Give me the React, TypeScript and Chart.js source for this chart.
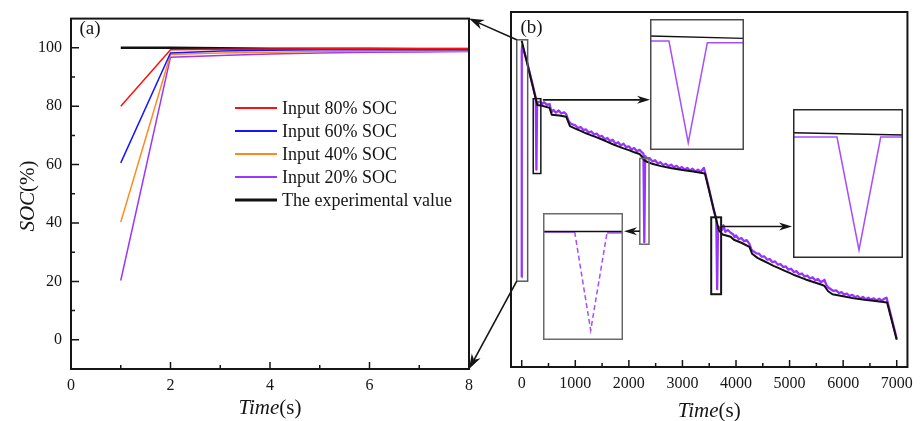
import React, { useEffect, useRef } from 'react';
import { Chart, registerables } from 'chart.js';

Chart.register(...registerables);

const SERIF = '"Liberation Serif", "Times New Roman", Times, serif';
const INK = '#151515';

// ---------- panel (a) ----------
const timeA = [1, 2, 3, 4, 5, 6, 7, 8];
const input80 = [80.0, 99.3, 99.5, 99.6, 99.7, 99.7, 99.7, 99.7];
const input60 = [60.6, 98.2, 98.9, 99.2, 99.3, 99.3, 99.3, 99.3];
const input40 = [40.3, 97.7, 98.2, 98.5, 98.7, 98.8, 98.9, 98.9];
const input20 = [20.3, 96.8, 97.4, 97.9, 98.2, 98.5, 98.6, 98.7];
const experimentalA = [100.0, 100.0, 99.8, 99.7, 99.7, 99.7, 99.6, 99.6];
const labelsA = ['Input 80% SOC', 'Input 60% SOC', 'Input 40% SOC', 'Input 20% SOC', 'The experimental value'];
const colorsA = ['#ff1010', '#1515ff', '#ff8a1c', '#9b35ff', '#111111'];
const xTicksA = [0, 2, 4, 6, 8];
const xMinorA = [1, 3, 5, 7];
const yTicksA = [0, 20, 40, 60, 80, 100];
const yMinorA = [10, 30, 50, 70, 90];

// ---------- panel (b) ----------
const blackTime = [0, 290, 380, 520, 560, 700, 830, 900, 1000, 1100, 1200, 1300, 1400, 1500, 1600, 1700, 1800, 1900, 2000, 2100, 2200, 2250, 2290, 2350, 2450, 2600, 2800, 3000, 3200, 3420, 3680, 3750, 3900, 3960, 4100, 4250, 4300, 4400, 4500, 4600, 4700, 4800, 4900, 5000, 5100, 5200, 5300, 5400, 5500, 5600, 5650, 5720, 5800, 6000, 6200, 6400, 6600, 6820, 7000];
const blackSOC = [100.3, 78.6, 78.3, 77.6, 75.3, 75.0, 74.6, 71.4, 70.6, 69.8, 69.0, 68.3, 67.6, 66.9, 66.1, 65.3, 64.6, 63.9, 63.3, 62.6, 62.0, 61.0, 59.8, 59.3, 58.6, 57.9, 57.2, 56.6, 56.1, 55.4, 36.2, 34.8, 34.0, 33.0, 32.0, 30.6, 28.3, 26.9, 26.0, 25.1, 24.2, 23.4, 22.6, 21.8, 21.0, 20.3, 19.6, 19.0, 18.4, 17.8, 17.4, 15.6, 14.6, 13.9, 13.2, 12.7, 12.3, 11.8, -0.8];

const purpleTime = [0, 1, 8, 100, 200, 262, 274, 287, 310, 340, 380, 420, 470, 520, 555, 590, 640, 690, 740, 790, 830, 870, 905, 950, 1000, 1050, 1100, 1150, 1200, 1250, 1300, 1350, 1400, 1450, 1500, 1550, 1600, 1650, 1700, 1750, 1800, 1850, 1900, 1950, 2000, 2050, 2100, 2150, 2200, 2240, 2272, 2288, 2304, 2340, 2390, 2440, 2490, 2540, 2590, 2640, 2690, 2740, 2790, 2840, 2890, 2940, 2990, 3040, 3090, 3140, 3190, 3240, 3290, 3340, 3400, 3425, 3500, 3580, 3632, 3648, 3664, 3700, 3740, 3765, 3800, 3850, 3900, 3950, 3975, 4000, 4050, 4100, 4150, 4200, 4250, 4290, 4330, 4380, 4430, 4480, 4530, 4580, 4630, 4680, 4730, 4780, 4830, 4880, 4930, 4980, 5030, 5080, 5130, 5180, 5230, 5280, 5330, 5380, 5430, 5480, 5530, 5580, 5630, 5650, 5690, 5730, 5770, 5820, 5870, 5920, 5970, 6020, 6070, 6120, 6170, 6220, 6270, 6320, 6370, 6420, 6470, 6520, 6570, 6620, 6670, 6720, 6770, 6810, 6830, 7000];
const purpleSOC = [20.3, 96.8, 98.7, 93.1, 85.7, 81.0, 56.7, 79.7, 79.4, 79.8, 78.9, 79.5, 78.6, 78.9, 76.1, 76.9, 76.0, 76.7, 75.7, 76.1, 75.5, 73.4, 72.4, 72.0, 71.7, 70.8, 71.1, 70.1, 70.3, 69.3, 69.6, 68.6, 68.9, 67.9, 68.1, 67.0, 67.4, 66.3, 66.8, 65.5, 66.0, 64.9, 65.5, 64.3, 64.6, 63.5, 64.0, 62.9, 63.4, 62.6, 62.1, 32.2, 61.3, 60.5, 60.6, 59.5, 59.9, 58.8, 59.2, 58.3, 58.7, 57.9, 58.4, 57.5, 58.0, 57.1, 57.6, 56.7, 57.3, 56.4, 57.0, 56.1, 56.7, 55.9, 57.3, 55.6, 49.9, 43.3, 39.9, 16.3, 37.6, 37.0, 36.4, 37.9, 35.7, 36.3, 35.4, 34.8, 33.9, 34.5, 33.2, 33.6, 32.5, 32.9, 31.6, 29.6, 29.1, 28.4, 28.3, 27.3, 27.4, 26.3, 26.5, 25.4, 25.7, 24.6, 24.8, 23.8, 24.0, 22.9, 23.2, 22.1, 22.4, 21.3, 21.6, 20.6, 20.9, 19.9, 20.3, 19.3, 19.7, 18.7, 19.1, 19.5, 17.6, 16.8, 16.3, 15.7, 15.9, 15.0, 15.3, 14.5, 14.8, 14.0, 14.4, 13.6, 14.0, 13.2, 13.7, 12.9, 13.4, 12.7, 13.2, 12.5, 13.1, 12.4, 13.1, 13.4, 12.0, -0.5];
const xTicksB = [0, 1000, 2000, 3000, 4000, 5000, 6000, 7000];
const xMinorB = [500, 1500, 2500, 3500, 4500, 5500, 6500];

// zoom boxes in panel (b), data units
const boxT0 = [-93, 215, 2204, 3537];
const boxT1 = [111, 357, 2376, 3722];
const boxS0 = [19.0, 55.4, 31.5, 14.6];
const boxS1 = [100.6, 80.7, 60.5, 40.6];
const linkSOC = [0, 80.3, 35.9, 37.5];

// insets (own data, own ranges)
const in1Range = [250, 310, 55.4, 80.7];
const in1BlackT = [250, 310];
const in1BlackS = [77.42, 76.97];
const in1PurpleT = [250, 262.1, 274.4, 286.6, 310];
const in1PurpleS = [76.45, 76.45, 56.8, 76.12, 76.12];

const in2Range = [3600, 3680, 14.6, 40.6];
const in2BlackT = [3600, 3680];
const in2BlackS = [36.46, 36.06];
const in2PurpleT = [3600, 3632, 3648, 3663.8, 3680];
const in2PurpleS = [35.71, 35.71, 16.0, 35.71, 35.71];

const in3Range = [2240, 2320, 31.5, 60.5];
const in3BlackT = [2240, 2320];
const in3BlackS = [56.27, 56.27];
const in3PurpleT = [2240, 2271.7, 2287.7, 2304, 2320];
const in3PurpleS = [56.15, 56.15, 33.72, 55.95, 55.95];

// layout
const INSETS = [
  { left: 650, top: 19, w: 94, h: 131, border: '#4a4a4a' },
  { left: 793, top: 109, w: 110, h: 149, border: '#2a2a2a' },
  { left: 543, top: 213, w: 80, h: 127, border: '#6a6a6a' },
];

const pts = (xs: number[], ys: number[]) => xs.map((x, i) => ({ x, y: ys[i] }));

function drawMixed(ctx: CanvasRenderingContext2D, parts: { t: string; i: boolean }[], cx: number, y: number, size: number) {
  const fonts = parts.map(p => `${p.i ? 'italic ' : ''}${size}px ${SERIF}`);
  let total = 0;
  const ws = parts.map((p, k) => { ctx.font = fonts[k]; const w = ctx.measureText(p.t).width; total += w; return w; });
  let x = cx - total / 2;
  ctx.textAlign = 'left';
  ctx.textBaseline = 'alphabetic';
  parts.forEach((p, k) => { ctx.font = fonts[k]; ctx.fillText(p.t, x, y); x += ws[k]; });
}

function frameAndTicks(chart: any, xMaj: number[], xMin: number[], yMaj: number[], yMin: number[]) {
  const { ctx, chartArea: a, scales } = chart;
  ctx.save();
  ctx.strokeStyle = INK;
  ctx.lineWidth = 1.5;
  ctx.beginPath();
  xMaj.forEach(v => { const p = scales.x.getPixelForValue(v); ctx.moveTo(p, a.bottom); ctx.lineTo(p, a.bottom - 7); });
  xMin.forEach(v => { const p = scales.x.getPixelForValue(v); ctx.moveTo(p, a.bottom); ctx.lineTo(p, a.bottom - 4); });
  yMaj.forEach(v => { const p = scales.y.getPixelForValue(v); ctx.moveTo(a.left, p); ctx.lineTo(a.left + 8, p); });
  yMin.forEach(v => { const p = scales.y.getPixelForValue(v); ctx.moveTo(a.left, p); ctx.lineTo(a.left + 4, p); });
  ctx.stroke();
  ctx.lineWidth = 2;
  ctx.strokeRect(a.left, a.top, a.right - a.left, a.bottom - a.top);
  ctx.restore();
}

function arrow(ctx: CanvasRenderingContext2D, x0: number, y0: number, x1: number, y1: number, L = 13, W = 4) {
  const ang = Math.atan2(y1 - y0, x1 - x0);
  const c = Math.cos(ang), s = Math.sin(ang);
  ctx.beginPath();
  ctx.moveTo(x0, y0);
  ctx.lineTo(x1 - L * 0.7 * c, y1 - L * 0.7 * s);
  ctx.stroke();
  ctx.beginPath();
  ctx.moveTo(x1, y1);
  ctx.lineTo(x1 - L * c + W * s, y1 - L * s - W * c);
  ctx.lineTo(x1 - L * 0.7 * c, y1 - L * 0.7 * s);
  ctx.lineTo(x1 - L * c - W * s, y1 - L * s + W * c);
  ctx.closePath();
  ctx.fill();
}

const tickFont = { family: SERIF, size: 16 };

export default function App() {
  const refA = useRef<HTMLCanvasElement>(null);
  const refB = useRef<HTMLCanvasElement>(null);
  const refI1 = useRef<HTMLCanvasElement>(null);
  const refI2 = useRef<HTMLCanvasElement>(null);
  const refI3 = useRef<HTMLCanvasElement>(null);

  useEffect(() => {
    document.body.style.margin = '0';
    const charts: Chart[] = [];

    const seriesA = [input80, input60, input40, input20, experimentalA];
    const chartA = new Chart(refA.current!, {
      type: 'line',
      data: {
        datasets: seriesA.map((s, i) => ({
          label: labelsA[i],
          data: pts(timeA, s),
          borderColor: colorsA[i],
          borderWidth: i === 4 ? 2.6 : 1.5,
          pointRadius: 0,
          tension: 0,
        })),
      },
      options: {
        animation: false,
        responsive: false,
        devicePixelRatio: 1,
        layout: { padding: { top: 14, right: 9, left: 0, bottom: 0 } },
        plugins: { legend: { display: false }, tooltip: { enabled: false } },
        scales: {
          x: {
            type: 'linear', min: 0, max: 8,
            grid: { display: false, drawTicks: false }, border: { display: false },
            afterBuildTicks: (s: any) => { s.ticks = xTicksA.map(v => ({ value: v })); },
            afterFit: (s: any) => { s.height = 52; },
            ticks: { font: tickFont, color: INK, padding: 7, maxRotation: 0, autoSkip: false, callback: (v: any) => String(v) },
          },
          y: {
            type: 'linear', min: -10, max: 110,
            grid: { display: false, drawTicks: false }, border: { display: false },
            afterBuildTicks: (s: any) => { s.ticks = yTicksA.map(v => ({ value: v })); },
            afterFit: (s: any) => { s.width = 71; },
            ticks: { font: tickFont, color: INK, padding: 9, autoSkip: false, callback: (v: any) => String(v) },
          },
        },
      },
      plugins: [{
        id: 'decorA',
        afterDraw(chart: any) {
          frameAndTicks(chart, xTicksA, xMinorA, yTicksA, yMinorA);
          const ctx = chart.ctx as CanvasRenderingContext2D;
          ctx.save();
          ctx.fillStyle = INK;
          // legend
          chart.data.datasets.forEach((d: any, i: number) => {
            const y = 108 + i * 23;
            ctx.strokeStyle = d.borderColor;
            ctx.lineWidth = i === 4 ? 3 : 2;
            ctx.beginPath(); ctx.moveTo(235, y); ctx.lineTo(277, y); ctx.stroke();
            ctx.font = `18px ${SERIF}`;
            ctx.textAlign = 'left'; ctx.textBaseline = 'middle';
            ctx.fillText(d.label, 282, y + 1);
          });
          // panel label
          ctx.font = `19px ${SERIF}`;
          ctx.textBaseline = 'alphabetic';
          ctx.fillText('(a)', 79.5, 34);
          // axis titles
          const a = chart.chartArea;
          drawMixed(ctx, [{ t: 'Time', i: true }, { t: '(s)', i: false }], (a.left + a.right) / 2, 414, 21);
          ctx.save();
          ctx.translate(33.5, 196);
          ctx.rotate(-Math.PI / 2);
          drawMixed(ctx, [{ t: 'SOC', i: true }, { t: '(%)', i: false }], 0, 0, 21);
          ctx.restore();
          ctx.restore();
        },
      }],
    } as any);
    charts.push(chartA);

    const chartB = new Chart(refB.current!, {
      type: 'line',
      data: {
        datasets: [
          { label: 'The experimental value', data: pts(blackTime, blackSOC), borderColor: '#111111', borderWidth: 2, pointRadius: 0, tension: 0, borderJoinStyle: 'round' },
          { label: 'Input 20% SOC', data: pts(purpleTime, purpleSOC), borderColor: '#9933ff', borderWidth: 2.3, pointRadius: 0, tension: 0, borderJoinStyle: 'round' },
        ],
      },
      options: {
        animation: false,
        responsive: false,
        devicePixelRatio: 1,
        layout: { padding: { top: 12, right: 10, left: 511, bottom: 0 } },
        plugins: { legend: { display: false }, tooltip: { enabled: false } },
        scales: {
          x: {
            type: 'linear', min: -200, max: 7200,
            grid: { display: false, drawTicks: false }, border: { display: false },
            afterBuildTicks: (s: any) => { s.ticks = xTicksB.map(v => ({ value: v })); },
            afterFit: (s: any) => { s.height = 54; },
            ticks: { font: tickFont, color: INK, padding: 7, maxRotation: 0, autoSkip: false, callback: (v: any) => String(v) },
          },
          y: { type: 'linear', min: -10, max: 110, display: false },
        },
      },
      plugins: [{
        id: 'decorB',
        afterDraw(chart: any) {
          const ctx = chart.ctx as CanvasRenderingContext2D;
          const sx = chart.scales.x, sy = chart.scales.y;
          frameAndTicks(chart, xTicksB, xMinorB, [], []);
          ctx.save();
          const boxColors = ['#5a5a5a', '#151515', '#6a6a6a', '#151515'];
          const px: number[][] = [];
          boxT0.forEach((t0, i) => {
            const l = sx.getPixelForValue(t0), r = sx.getPixelForValue(boxT1[i]);
            const t = sy.getPixelForValue(boxS1[i]), b = sy.getPixelForValue(boxS0[i]);
            px.push([l, r, t, b]);
            ctx.strokeStyle = boxColors[i];
            ctx.lineWidth = i === 3 ? 2 : 1.5;
            ctx.strokeRect(l, t, r - l, b - t);
          });
          ctx.strokeStyle = INK; ctx.fillStyle = INK; ctx.lineWidth = 1.6;
          const aa = chartA.chartArea;
          arrow(ctx, px[0][0], px[0][2], aa.right, aa.top, 15, 5);
          arrow(ctx, px[0][0], px[0][3], aa.right, aa.bottom, 15, 5);
          const y2 = sy.getPixelForValue(linkSOC[1]);
          arrow(ctx, px[1][1] + 2, y2, INSETS[0].left, y2);
          const y3 = sy.getPixelForValue(linkSOC[2]);
          arrow(ctx, px[2][0], y3, INSETS[2].left + INSETS[2].w + 1, y3);
          const y4 = sy.getPixelForValue(linkSOC[3]);
          arrow(ctx, px[3][1], y4, INSETS[1].left - 1, y4);
          // labels
          ctx.font = `19px ${SERIF}`;
          ctx.textAlign = 'left'; ctx.textBaseline = 'alphabetic';
          ctx.fillText('(b)', 520.5, 33);
          const a = chart.chartArea;
          drawMixed(ctx, [{ t: 'Time', i: true }, { t: '(s)', i: false }], (a.left + a.right) / 2, 417, 21);
          ctx.restore();
        },
      }],
    } as any);
    charts.push(chartB);

    const insetData = [
      { ref: refI1, range: in1Range, bt: in1BlackT, bs: in1BlackS, pt: in1PurpleT, ps: in1PurpleS, dashed: false },
      { ref: refI2, range: in2Range, bt: in2BlackT, bs: in2BlackS, pt: in2PurpleT, ps: in2PurpleS, dashed: false },
      { ref: refI3, range: in3Range, bt: in3BlackT, bs: in3BlackS, pt: in3PurpleT, ps: in3PurpleS, dashed: true },
    ];
    insetData.forEach((d, k) => {
      const c = new Chart(d.ref.current!, {
        type: 'line',
        data: {
          datasets: [
            { data: pts(d.bt, d.bs), borderColor: '#111111', borderWidth: 1.3, pointRadius: 0, tension: 0 },
            {
              data: pts(d.pt, d.ps), borderColor: '#a64dff', borderWidth: 1.5, pointRadius: 0, tension: 0,
              segment: d.dashed ? { borderDash: (ctx: any) => (ctx.p0DataIndex === 1 || ctx.p0DataIndex === 2 ? [5, 3] : undefined) } : undefined,
            },
          ],
        },
        options: {
          animation: false,
          responsive: false,
          devicePixelRatio: 1,
          layout: { padding: 0 },
          plugins: { legend: { display: false }, tooltip: { enabled: false } },
          scales: {
            x: { type: 'linear', min: d.range[0], max: d.range[1], display: false },
            y: { type: 'linear', min: d.range[2], max: d.range[3], display: false },
          },
        },
        plugins: [{
          id: 'insetFrame',
          beforeDraw(chart: any) {
            const ctx = chart.ctx;
            ctx.save(); ctx.fillStyle = '#ffffff'; ctx.fillRect(0, 0, chart.width, chart.height); ctx.restore();
          },
          afterDraw(chart: any) {
            const ctx = chart.ctx;
            ctx.save();
            ctx.strokeStyle = INSETS[k].border;
            ctx.lineWidth = 1.5;
            ctx.strokeRect(0.75, 0.75, chart.width - 1.5, chart.height - 1.5);
            ctx.restore();
          },
        }],
      } as any);
      charts.push(c);
    });

    return () => { charts.forEach(c => c.destroy()); };
  }, []);

  const abs = (left: number, top: number): React.CSSProperties => ({ position: 'absolute', left, top, display: 'block' });

  return (
    <div style={{ position: 'relative', width: 920, height: 421, background: '#ffffff', overflow: 'hidden' }}>
      <canvas ref={refA} width={480} height={421} style={abs(0, 0)} />
      <canvas ref={refB} width={920} height={421} style={abs(0, 0)} />
      <canvas ref={refI1} width={INSETS[0].w} height={INSETS[0].h} style={abs(INSETS[0].left, INSETS[0].top)} />
      <canvas ref={refI2} width={INSETS[1].w} height={INSETS[1].h} style={abs(INSETS[1].left, INSETS[1].top)} />
      <canvas ref={refI3} width={INSETS[2].w} height={INSETS[2].h} style={abs(INSETS[2].left, INSETS[2].top)} />
    </div>
  );
}
